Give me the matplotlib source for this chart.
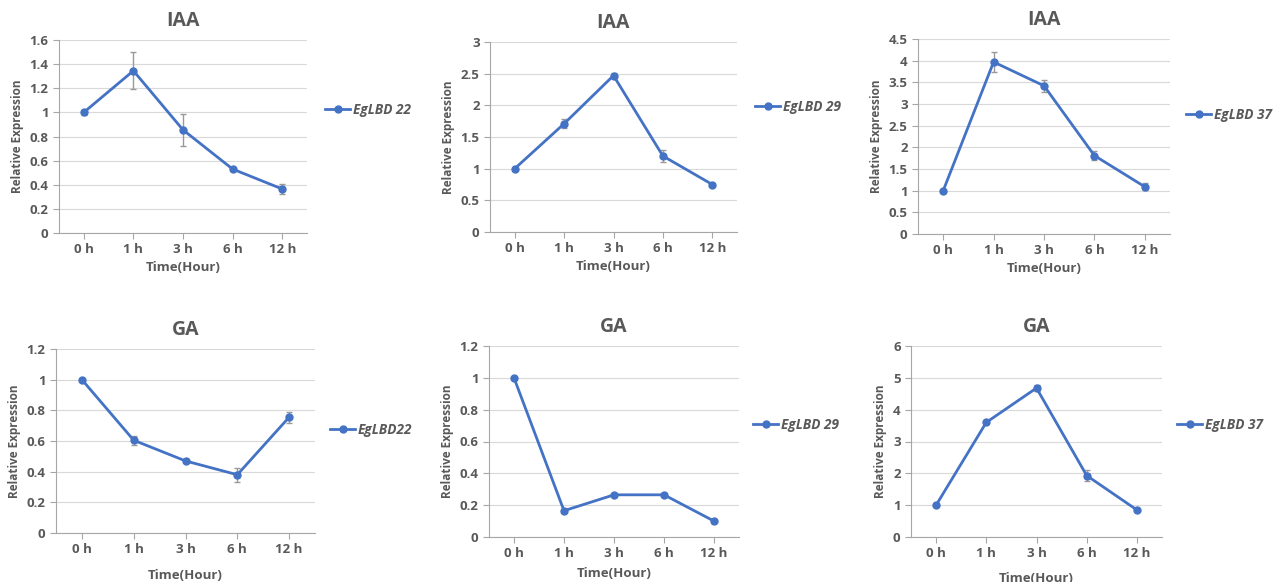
import numpy as np
import matplotlib.pyplot as plt
from matplotlib.lines import Line2D
from matplotlib.ticker import FormatStrFormatter, MultipleLocator

plt.rcParams['font.family'] = ['Open Sans', 'DejaVu Sans']

hours = ['0 h', '1 h', '3 h', '6 h', '12 h']

# IAA treatment
iaa_22 = [1.0, 1.345, 0.855, 0.53, 0.365]
iaa_22_err = [0.02, 0.155, 0.13, 0.01, 0.04]
iaa_29 = [1.0, 1.71, 2.47, 1.2, 0.75]
iaa_29_err = [0.02, 0.07, 0.04, 0.09, 0.02]
iaa_37 = [1.0, 3.97, 3.42, 1.81, 1.09]
iaa_37_err = [0.02, 0.23, 0.14, 0.1, 0.08]

# GA treatment
ga_22 = [1.0, 0.605, 0.47, 0.38, 0.755]
ga_22_err = [0.01, 0.03, 0.01, 0.045, 0.035]
ga_29 = [1.0, 0.165, 0.265, 0.265, 0.1]
ga_29_err = [0.005, 0.005, 0.005, 0.005, 0.005]
ga_37 = [1.0, 3.6, 4.68, 1.93, 0.85]
ga_37_err = [0.03, 0.05, 0.08, 0.18, 0.03]

W, H = 1277, 582
fig = plt.figure(figsize=(W / 100, H / 100), dpi=100)

blue = '#4472C4'
grey = '#595959'

# (title, values, errors, legend label, ymax, ystep, [left, top, right, bottom] px, legend (x, y) px, xlabel pad)
panels = [
    ('IAA', iaa_22, iaa_22_err, 'EgLBD 22', 1.6, 0.2, [59, 40, 307, 233], (320, 110), 3),
    ('IAA', iaa_29, iaa_29_err, 'EgLBD 29', 3.0, 0.5, [490, 42, 737, 232], (750, 107), 3),
    ('IAA', iaa_37, iaa_37_err, 'EgLBD 37', 4.5, 0.5, [918, 39, 1170, 234], (1181, 115), 3),
    ('GA', ga_22, ga_22_err, 'EgLBD22', 1.2, 0.2, [56, 349, 315, 533], (325, 430), 9),
    ('GA', ga_29, ga_29_err, 'EgLBD 29', 1.2, 0.2, [489, 346, 739, 537], (748, 425), 5),
    ('GA', ga_37, ga_37_err, 'EgLBD 37', 6.0, 1.0, [911, 346, 1162, 537], (1172, 425), 8),
]

for title, vals, errs, lab, ymax, ystep, (l, t, r, b), (lx, ly), xpad in panels:
    ax = fig.add_axes([l / W, 1 - b / H, (r - l) / W, (b - t) / H])
    x = np.arange(len(hours))
    ax.errorbar(x, vals, yerr=errs, color=blue, lw=2, marker='o', ms=5,
                ecolor='#999999', elinewidth=1, capsize=2, capthick=1, zorder=3)
    ax.set_xlim(-0.5, len(hours) - 0.5)
    ax.set_ylim(0, ymax)
    ax.yaxis.set_major_locator(MultipleLocator(ystep))
    ax.yaxis.set_major_formatter(FormatStrFormatter('%g'))
    ax.set_xticks(x)
    ax.set_xticklabels(hours)
    ax.grid(axis='y', color='#d9d9d9', lw=0.8)
    ax.set_axisbelow(True)
    for s in ['top', 'right']:
        ax.spines[s].set_visible(False)
    for s in ['left', 'bottom']:
        ax.spines[s].set_color('#a6a6a6')
    ax.tick_params(axis='both', colors='#a6a6a6', labelcolor=grey, labelsize=9.5, length=4)
    for lbl in ax.get_xticklabels() + ax.get_yticklabels():
        lbl.set_fontweight('bold')
    ax.set_title(title, fontsize=14, fontweight='bold', color=grey, pad=10)
    ax.set_xlabel('Time(Hour)', fontsize=9.5, fontweight='bold', color=grey, labelpad=xpad)
    ax.set_ylabel('Relative Expression', fontsize=8.5, fontweight='bold', color=grey, labelpad=4)
    handle = Line2D([], [], color=blue, lw=2, marker='o', ms=5)
    ax.legend([handle], [lab], loc='center left', bbox_to_anchor=(lx / W, 1 - ly / H),
              bbox_transform=fig.transFigure, frameon=False, handlelength=1.8,
              handletextpad=0.2, borderaxespad=0,
              prop={'size': 9.8, 'weight': 'bold', 'style': 'italic'}, labelcolor=grey)

fig.savefig('out.png', dpi=100)
